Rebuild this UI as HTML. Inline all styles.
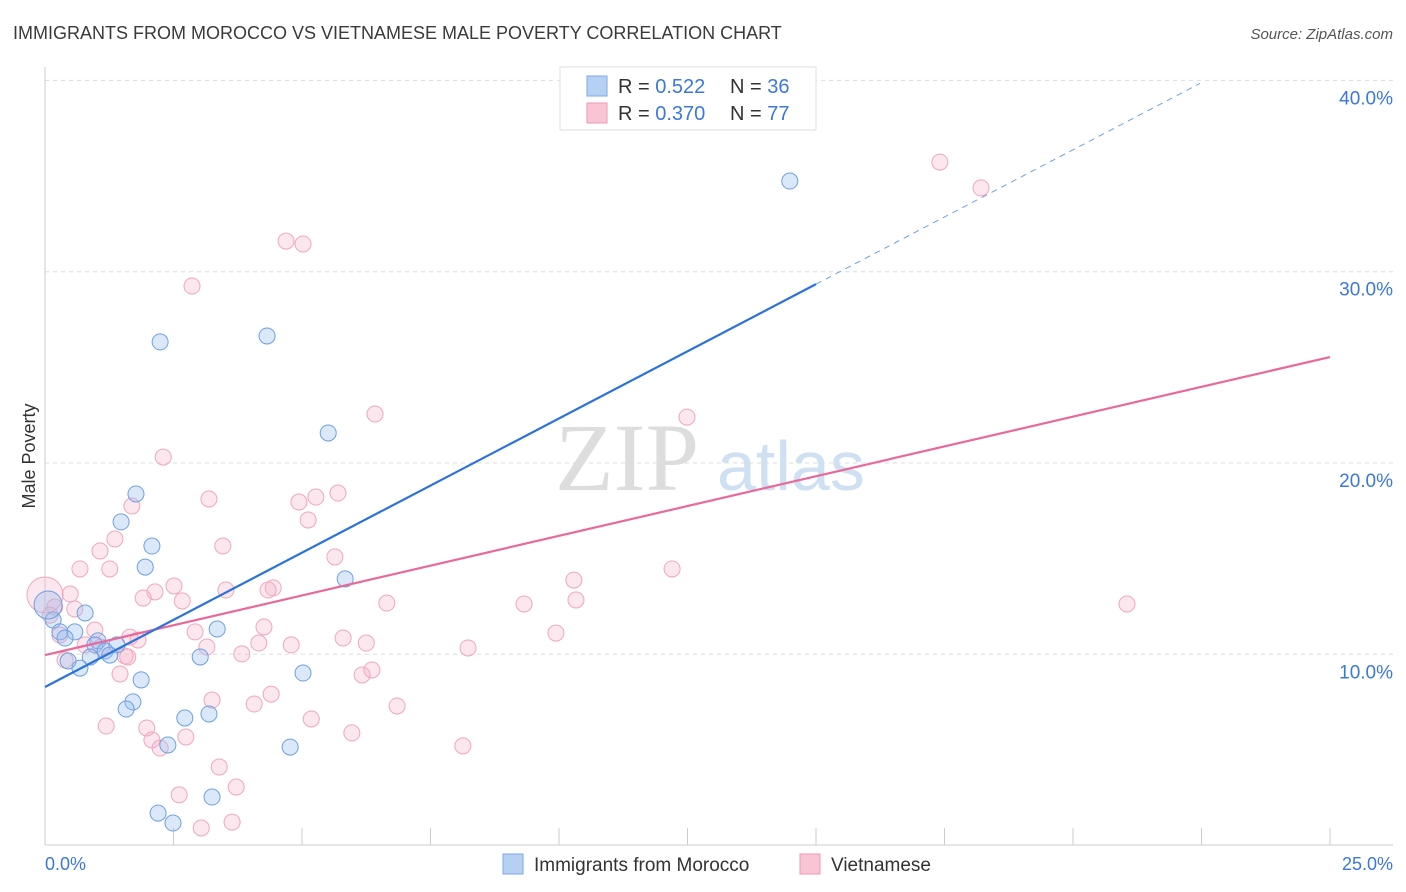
<!DOCTYPE html>
<html><head><meta charset="utf-8"><style>
body{margin:0;background:#fff;font-family:"Liberation Sans",sans-serif;}
svg{display:block}
</style></head><body>
<svg id="chart" width="1406" height="892">
<text x="13" y="39" font-size="18" fill="#3a3a3a">IMMIGRANTS FROM MOROCCO VS VIETNAMESE MALE POVERTY CORRELATION CHART</text>
<text x="1393" y="39" font-size="15" fill="#555" font-style="italic" text-anchor="end">Source: ZipAtlas.com</text>
<text x="35" y="456" font-size="18" fill="#333" text-anchor="middle" transform="rotate(-90 35 456)">Male Poverty</text>
<g id="grid"></g>
<g>
<text x="555" y="490" font-size="96" fill="#ddd" font-family="Liberation Serif,serif">ZIP</text>
<text x="717" y="490" font-size="70" fill="#cfe0f3">atlas</text>
</g>
<line x1="45" y1="67" x2="45" y2="845" stroke="#ccc"/>
<line x1="45" y1="845" x2="1393" y2="845" stroke="#ccc"/>
<g id="ticks"></g>
<g id="pinkPts"></g>
<g id="bluePts"></g>
<g id="lines"></g>
<text x="45" y="870" font-size="18" fill="#3b78d8">0.0%</text>
<text x="1393" y="870" font-size="18" fill="#3b78d8" text-anchor="end">25.0%</text>
<g>
<rect x="560" y="67" width="256" height="63" fill="#fff" stroke="#ddd"/>
<rect x="587" y="76" width="20" height="20" fill="#b5d0f3" stroke="#7aaae8"/>
<text x="618" y="93" font-size="20" fill="#333">R = <tspan fill="#3b78d8">0.522</tspan><tspan x="730">N = </tspan><tspan fill="#3b78d8">36</tspan></text>
<rect x="587" y="103" width="20" height="20" fill="#f9c4d4" stroke="#ee9ab5"/>
<text x="618" y="120" font-size="20" fill="#333">R = <tspan fill="#3b78d8">0.370</tspan><tspan x="730">N = </tspan><tspan fill="#3b78d8">77</tspan></text>
</g>
<rect x="503" y="854" width="20" height="20" fill="#b5d0f3" stroke="#7aaae8"/>
<text x="534" y="871" font-size="19" fill="#333">Immigrants from Morocco</text>
<rect x="800" y="854" width="20" height="20" fill="#f9c4d4" stroke="#ee9ab5"/>
<text x="831" y="871" font-size="19" fill="#333">Vietnamese</text>
</svg>
<script>
const blueX=[14.49,2.24,4.32,5.51,1.77,1.48,2.08,1.95,5.84,0.16,0.78,0.58,0.29,0.39,1.03,0.97,1.40,1.17,1.26,0.88,3.02,3.35,0.45,0.68,5.02,1.87,1.71,1.58,2.72,3.19,2.39,4.77,3.25,2.20,2.49,0.06];
const blueY=[34.74,26.33,26.64,21.57,18.38,16.92,15.66,14.56,13.94,11.79,12.16,11.17,11.17,10.85,10.70,10.49,10.49,10.17,9.96,9.86,9.86,11.32,9.65,9.28,9.02,8.66,7.51,7.14,6.67,6.88,5.26,5.15,2.54,1.70,1.18,12.58];
const pinkX=[17.41,18.21,4.69,5.02,2.86,6.42,12.49,2.30,5.70,5.27,3.19,4.94,1.69,5.12,1.36,1.07,3.46,5.64,0.68,1.26,2.51,4.44,3.52,4.34,12.20,10.29,1.91,2.14,2.67,10.33,6.65,9.32,21.05,0.49,0.58,0.19,0.97,4.26,2.92,9.94,5.80,6.25,1.09,1.81,1.65,4.79,3.15,4.16,8.23,3.83,1.56,0.29,0.39,6.36,6.17,1.46,3.25,4.40,4.07,6.85,5.18,1.19,1.98,5.97,2.74,2.08,2.24,8.13,3.39,3.72,2.61,3.64,3.04,0.00,0.78,1.61,0.10];
const pinkY=[35.73,34.38,31.60,31.45,29.25,22.56,22.40,20.31,18.43,18.22,18.12,17.96,17.75,17.02,16.03,15.40,15.66,15.09,14.46,14.46,13.57,13.47,13.36,13.36,14.46,13.88,12.94,13.26,12.79,12.84,12.68,12.63,12.63,13.15,12.37,12.47,11.27,11.43,11.17,11.11,10.85,10.59,10.38,10.75,10.90,10.49,10.38,10.59,10.33,10.02,9.91,11.01,9.70,9.18,8.92,8.97,7.61,7.92,7.40,7.30,6.62,6.25,6.15,5.89,5.68,5.52,5.10,5.21,4.11,3.06,2.65,1.23,0.92,13.10,10.49,9.86,12.05];
const blueTrendX=[0,15,22.47];
const blueTrendY=[8.29,29.35,39.84];
const pinkTrendX=[0,25];
const pinkTrendY=[9.96,25.54];
const yTicks=[10,20,30,40];
const yTickLabels=["10.0%","20.0%","30.0%","40.0%"];
const xTicks=[0,2.5,5,7.5,10,12.5,15,17.5,20,22.5,25];
const bigBlue=35, bigPink=73;
const NS="http://www.w3.org/2000/svg";
function sx(v){return 45+v*(1285/25);}
function sy(v){return 845.6-v*19.13;}
function mk(tag,attrs,parent){const e=document.createElementNS(NS,tag);for(const k in attrs)e.setAttribute(k,attrs[k]);parent.appendChild(e);return e;}
const grid=document.getElementById('grid');
yTicks.forEach((t,i)=>{
  const l=mk('line',{x1:45,x2:1393,y1:sy(t),y2:sy(t),stroke:'#ddd','stroke-dasharray':'4,4'},grid);
  
  
  const tx=mk('text',{x:1393,y:sy(t)+24,'font-size':19,fill:'#3b78d8','text-anchor':'end'},grid);
  tx.textContent=yTickLabels[i];
  
  
});
const ticks=document.getElementById('ticks');
xTicks.forEach(t=>{
  const l=mk('line',{x1:sx(t),x2:sx(t),y1:828,y2:845,stroke:'#ccc'},ticks);
  
  
});
const pp=document.getElementById('pinkPts');
pinkX.forEach((x,i)=>{
  const c=mk('circle',{cx:sx(x),cy:sy(pinkY[i]),r:i===bigPink?18:8,fill:'rgba(245,175,200,0.3)',stroke:'#f0a6bf','stroke-width':1},pp);
  
  
});
const bp=document.getElementById('bluePts');
blueX.forEach((x,i)=>{
  const c=mk('circle',{cx:sx(x),cy:sy(blueY[i]),r:i===bigBlue?14:8,fill:'rgba(150,190,240,0.35)',stroke:'#6fa0e0','stroke-width':1},bp);
  
  
});
const lines=document.getElementById('lines');
const pl=mk('line',{x1:sx(pinkTrendX[0]),y1:sy(pinkTrendY[0]),x2:sx(pinkTrendX[1]),y2:sy(pinkTrendY[1]),stroke:'#e8699a','stroke-width':2.2},lines);


const bl=mk('line',{x1:sx(blueTrendX[0]),y1:sy(blueTrendY[0]),x2:sx(blueTrendX[1]),y2:sy(blueTrendY[1]),stroke:'#2a74d8','stroke-width':2.2},lines);


const bd=mk('line',{x1:sx(blueTrendX[1]),y1:sy(blueTrendY[1]),x2:sx(blueTrendX[2]),y2:sy(blueTrendY[2]),stroke:'#6fa0e0','stroke-width':1,'stroke-dasharray':'6,5'},lines);


</script>
</body></html>
